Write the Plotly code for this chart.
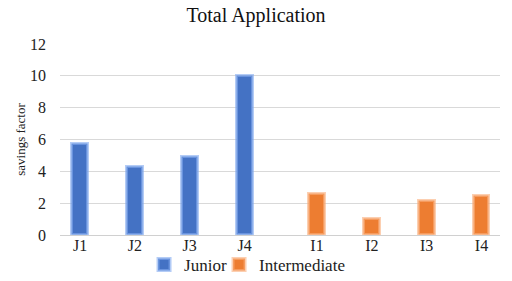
import plotly.graph_objects as go

categories = ["J1", "J2", "J3", "J4", "I1", "I2", "I3", "I4"]
groups = ["Junior", "Junior", "Junior", "Junior",
          "Intermediate", "Intermediate", "Intermediate", "Intermediate"]
values = [5.7, 4.3, 4.9, 10.0, 2.6, 1.0, 2.15, 2.47]
y_ticks = [0, 2, 4, 6, 8, 10, 12]

colors = {"Junior": "#4472C4", "Intermediate": "#ED7D31"}
glow = {"Junior": "rgba(130,170,240,0.6)", "Intermediate": "rgba(250,175,125,0.6)"}
group_offset = {"Junior": 0.0, "Intermediate": 0.32}
legend_width = {"Junior": 30, "Intermediate": None}

pos = [i + group_offset[g] for i, g in enumerate(groups)]

fig = go.Figure()
for g in ["Junior", "Intermediate"]:
    xs = [p for p, gg in zip(pos, groups) if gg == g]
    ys = [v for v, gg in zip(values, groups) if gg == g]
    kw = {}
    if legend_width[g]:
        kw["legendwidth"] = legend_width[g]
    fig.add_trace(go.Bar(
        x=xs, y=ys, name=g, width=0.29,
        marker=dict(color=colors[g], line=dict(color=glow[g], width=3)),
        **kw,
    ))

font = "Liberation Serif, DejaVu Serif, serif"
fig.update_layout(
    width=512, height=281,
    margin=dict(l=60, r=12, t=44, b=46, autoexpand=False),
    paper_bgcolor="white", plot_bgcolor="white",
    font=dict(family=font, size=14, color="#222"),
    title=dict(text="Total Application", x=0.5, xanchor="center", y=0.945, yanchor="middle",
               font=dict(family=font, size=20, color="#111")),
    showlegend=True,
    legend=dict(orientation="h", x=0.191, xanchor="left", y=-0.157, yanchor="middle",
                font=dict(family=font, size=17), itemwidth=30, traceorder="normal",
                bgcolor="rgba(0,0,0,0)", tracegroupgap=0),
    bargap=0,
)
fig.update_xaxes(
    tickmode="array", tickvals=pos, ticktext=categories,
    range=[-0.365, 7.657], showgrid=False, zeroline=False,
    showline=True, linecolor="#d0d0d0", linewidth=1, ticks="",
    tickfont=dict(family=font, size=16), automargin=False, ticklabelstandoff=-4,
)
fig.update_yaxes(
    range=[0, 12], tickvals=y_ticks, showgrid=True, gridcolor="#d9d9d9", gridwidth=1,
    zeroline=False, showline=False, ticks="", ticklen=0, ticklabelstandoff=13,
    tickfont=dict(family=font, size=16), automargin=False,
    title=dict(text="savings factor", font=dict(family=font, size=13), standoff=1),
)
fig.write_html("out.html", config={"displayModeBar": False},
               post_script="document.body.style.margin='0';")
